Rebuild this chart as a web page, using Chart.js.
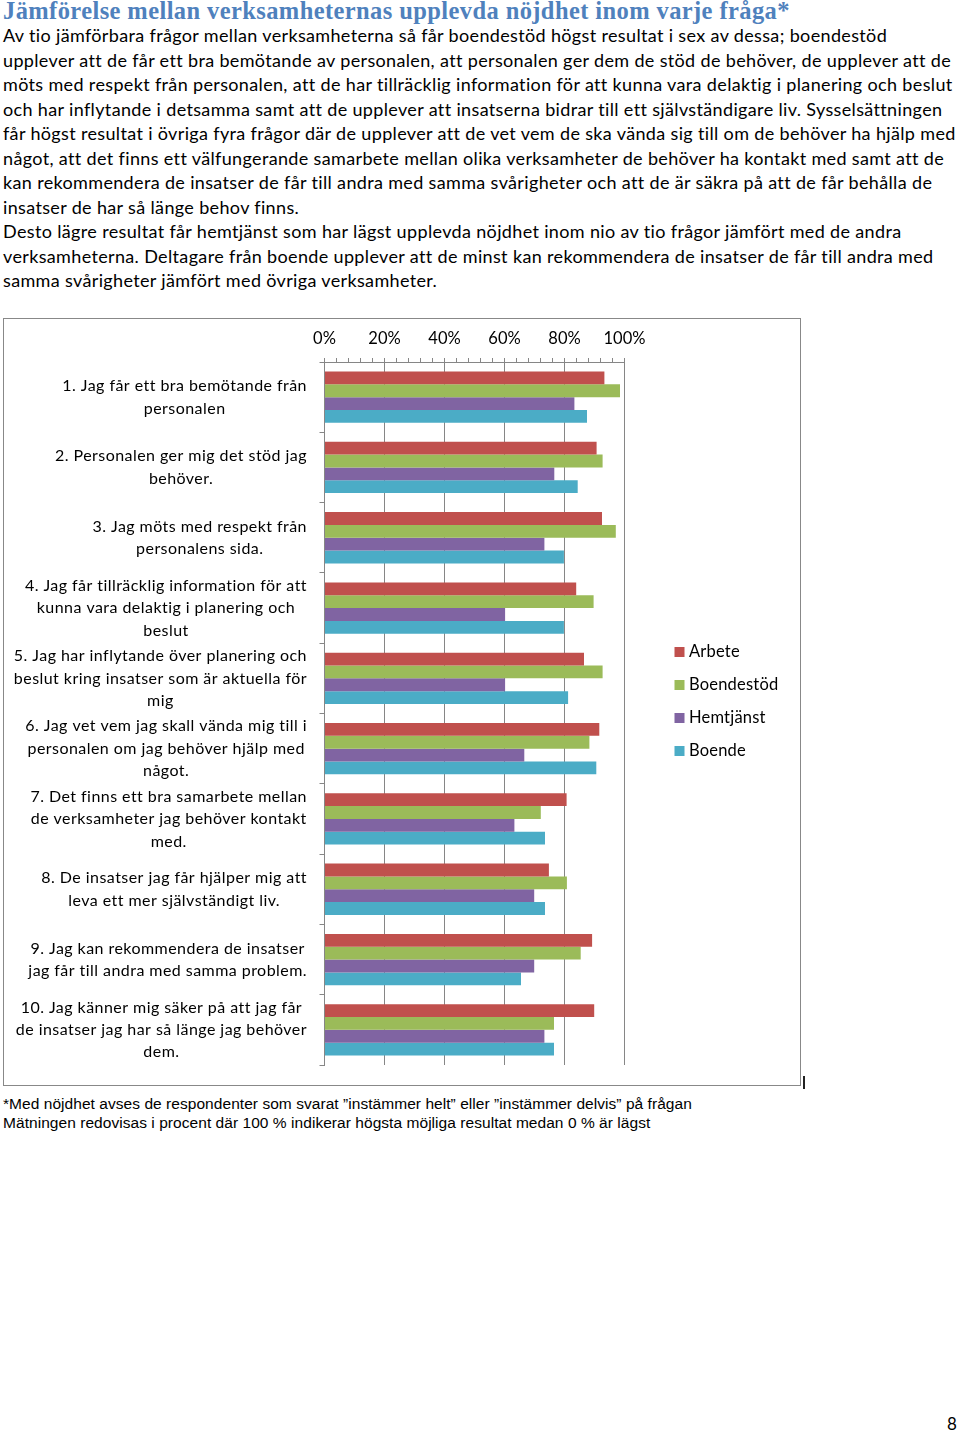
<!DOCTYPE html>
<html lang="sv">
<head>
<meta charset="utf-8">
<title>Jämförelse mellan verksamheternas upplevda nöjdhet</title>
<script src="https://cdn.jsdelivr.net/npm/chart.js@4/dist/chart.umd.min.js"></script>
<style>
  html, body { margin: 0; padding: 0; background: #fff; }
  body { position: relative; width: 960px; height: 1433px; overflow: hidden; color: #000; }
  .title { position: absolute; left: 3px; top: -3px; font: bold 24.5px "Liberation Serif", serif; letter-spacing: 0.4px; color: #4f81bd; white-space: nowrap; }
  .text { position: absolute; left: 3px; top: 23px; font: 18px Lato, sans-serif; letter-spacing: 0.35px; line-height: 24.5px; }
  .text div { white-space: nowrap; }
  .box { position: absolute; left: 3px; top: 318px; width: 796px; height: 766px; border: 1px solid #888; }
  .box canvas { display: block; }
  .mark { position: absolute; left: 803px; top: 1076px; width: 2px; height: 13px; background: #222; }
  .note { position: absolute; left: 3px; top: 1094px; font: 15.5px "Liberation Sans", sans-serif; letter-spacing: 0.05px; line-height: 19px; }
  .note div { white-space: nowrap; }
  .page { position: absolute; left: 947px; top: 1413px; font: 17px Lato, sans-serif; }
</style>
</head>
<body>
<div class="title">Jämförelse mellan verksamheternas upplevda nöjdhet inom varje fråga*</div>
<div class="text">
  <div>Av tio jämförbara frågor mellan verksamheterna så får boendestöd högst resultat i sex av dessa; boendestöd</div>
  <div>upplever att de får ett bra bemötande av personalen, att personalen ger dem de stöd de behöver, de upplever att de</div>
  <div>möts med respekt från personalen, att de har tillräcklig information för att kunna vara delaktig i planering och beslut</div>
  <div>och har inflytande i detsamma samt att de upplever att insatserna bidrar till ett självständigare liv. Sysselsättningen</div>
  <div>får högst resultat i övriga fyra frågor där de upplever att de vet vem de ska vända sig till om de behöver ha hjälp med</div>
  <div>något, att det finns ett välfungerande samarbete mellan olika verksamheter de behöver ha kontakt med samt att de</div>
  <div>kan rekommendera de insatser de får till andra med samma svårigheter och att de är säkra på att de får behålla de</div>
  <div>insatser de har så länge behov finns.</div>
  <div>Desto lägre resultat får hemtjänst som har lägst upplevda nöjdhet inom nio av tio frågor jämfört med de andra</div>
  <div>verksamheterna. Deltagare från boende upplever att de minst kan rekommendera de insatser de får till andra med</div>
  <div>samma svårigheter jämfört med övriga verksamheter.</div>
</div>
<div class="box"><canvas id="chart" width="796" height="766"></canvas></div>
<div class="mark"></div>
<div class="note">
  <div>*Med nöjdhet avses de respondenter som svarat ”instämmer helt” eller ”instämmer delvis” på frågan</div>
  <div>Mätningen redovisas i procent där 100 % indikerar högsta möjliga resultat medan 0 % är lägst</div>
</div>
<div class="page">8</div>

<script>
// Questions (one array of lines per category)
const questions = [
    ['1. Jag får ett bra bemötande från', 'personalen'],
    ['2. Personalen ger mig det stöd jag', 'behöver.'],
    ['3. Jag möts med respekt från', 'personalens sida.'],
    ['4. Jag får tillräcklig information för att', 'kunna vara delaktig i planering och', 'beslut'],
    ['5. Jag har inflytande över planering och', 'beslut kring insatser som är aktuella för', 'mig'],
    ['6. Jag vet vem jag skall vända mig till i', 'personalen om jag behöver hjälp med', 'något.'],
    ['7. Det finns ett bra samarbete mellan', 'de verksamheter jag behöver kontakt', 'med.'],
    ['8. De insatser jag får hjälper mig att', 'leva ett mer självständigt liv.'],
    ['9. Jag kan rekommendera de insatser', 'jag får till andra med samma problem.'],
    ['10. Jag känner mig säker på att jag får', 'de insatser jag har så länge jag behöver', 'dem.'],
];

// Share satisfied (%) per question
const arbete     = [93.3, 90.7, 92.5, 83.9, 86.5, 91.6, 80.7, 74.8, 89.2, 89.9];
const boendestod = [98.5, 92.7, 97.1, 89.7, 92.7, 88.3, 72.1, 80.8, 85.4, 76.5];
const hemtjanst  = [83.3, 76.6, 73.3, 60.2, 60.2, 66.6, 63.3, 69.9, 69.9, 73.3];
const boende     = [87.5, 84.4, 79.8, 79.8, 81.2, 90.6, 73.5, 73.5, 65.5, 76.5];

const seriesNames = ['Arbete', 'Boendestöd', 'Hemtjänst', 'Boende'];
const seriesColors = ['#c0504d', '#9bbb59', '#8064a2', '#4bacc6'];

const axisGray = '#868686';

// Multi-line category labels: each block right-aligned, lines centred
const questionLabels = {
    id: 'questionLabels',
    afterDraw(chart) {
        const ctx = chart.ctx;
        const yScale = chart.scales.y;
        const rightEdge = 303;
        const lineHeight = 22.4;
        ctx.save();
        ctx.font = '16px Lato, sans-serif';
        ctx.letterSpacing = '0.45px';
        ctx.fillStyle = '#000';
        ctx.textAlign = 'center';
        ctx.textBaseline = 'middle';
        questions.forEach((lines, i) => {
            const y = yScale.getPixelForValue(i);
            const widest = Math.max(...lines.map(l => ctx.measureText(l).width));
            const cx = rightEdge - widest / 2;
            const top = y - (lines.length - 1) * lineHeight / 2;
            lines.forEach((line, j) => ctx.fillText(line, cx, top + j * lineHeight));
        });
        ctx.restore();
    },
};

// Legend drawn at the right of the plot
const sideLegend = {
    id: 'sideLegend',
    afterDraw(chart) {
        const ctx = chart.ctx;
        ctx.save();
        ctx.font = '16.5px Lato, sans-serif';
        ctx.letterSpacing = '0.2px';
        ctx.textBaseline = 'middle';
        chart.data.datasets.forEach((ds, i) => {
            const y = 333 + i * 33;
            ctx.fillStyle = ds.backgroundColor;
            ctx.fillRect(670.5, y - 5, 10, 10);
            ctx.fillStyle = '#000';
            ctx.fillText(ds.label, 685, y);
        });
        ctx.restore();
    },
};

const datasets = [arbete, boendestod, hemtjanst, boende].map((values, i) => ({
    label: seriesNames[i],
    data: values,
    backgroundColor: seriesColors[i],
    borderWidth: 0,
    categoryPercentage: 0.73,
    barPercentage: 1.0,
}));

const ctxChart = document.getElementById('chart').getContext('2d');
const chart = new Chart(ctxChart, {
    type: 'bar',
    data: {
        labels: questions.map(q => q.join(' ')),
        datasets: datasets,
    },
    options: {
        indexAxis: 'y',
        responsive: false,
        animation: false,
        devicePixelRatio: 1,
        layout: {
            padding: { left: 0, right: 175.5, top: 0, bottom: 20 },
        },
        scales: {
            x: {
                position: 'top',
                min: 0,
                max: 100,
                afterFit: scale => { scale.height = 43; },
                ticks: {
                    stepSize: 4,
                    autoSkip: false,
                    maxRotation: 0,
                    padding: 9,
                    color: '#000',
                    font: { family: 'Lato', size: 16.5 },
                    callback: value => (value % 20 === 0 ? value + '%' : ''),
                },
                grid: {
                    color: c => (c.tick && c.tick.value % 20 === 0 ? axisGray : 'rgba(0,0,0,0)'),
                    tickColor: axisGray,
                    tickLength: 4,
                    lineWidth: 1,
                },
                border: { color: axisGray },
            },
            y: {
                afterFit: scale => { scale.width = 320.5; },
                ticks: { display: false },
                grid: {
                    drawOnChartArea: false,
                    tickLength: 5,
                    color: axisGray,
                },
                border: { color: axisGray },
            },
        },
        plugins: {
            legend: { display: false },
            tooltip: { enabled: false },
        },
    },
    plugins: [questionLabels, sideLegend],
});
</script>
</body>
</html>
